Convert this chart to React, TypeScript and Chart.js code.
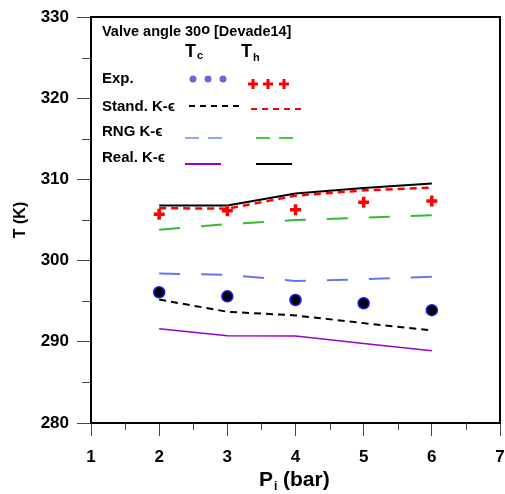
import React, { useEffect, useRef } from "react";
import { Chart, registerables } from "chart.js";

Chart.register(...registerables);

const pressures = [2, 3, 4, 5, 6];
const expTc = [296.1, 295.6, 295.15, 294.75, 293.9];
const expTh = [305.7, 306.15, 306.25, 307.2, 307.35];
const standTc = [295.2, 293.7, 293.25, 292.3, 291.4];
const standTh = [306.45, 306.4, 308.0, 308.65, 309.0];
const rngTc = [298.4, 298.25, 297.5, 297.7, 298.0];
const rngTh = [303.8, 304.5, 305.0, 305.3, 305.6];
const realTc = [291.6, 290.75, 290.7, 289.8, 288.9];
const realTh = [306.8, 306.8, 308.25, 308.95, 309.5];

const yMinorTicks = [285, 295, 305, 315, 325];
const xMinorTicks = [1.5, 2.5, 3.5, 4.5, 5.5, 6.5];

const FONT = "'Liberation Sans', Arial, sans-serif";
const AREA = { left: 91, right: 500, top: 17, bottom: 423 };

const pts = (ys: number[]) => pressures.map((x, i) => ({ x, y: ys[i] }));

const areaPlugin = {
  id: "area",
  afterLayout(chart: any) {
    const ca = chart.chartArea;
    const xs = chart.scales.x;
    const ys = chart.scales.y;
    xs.right = AREA.right;
    xs.width = xs.right - xs.left;
    ys.top = AREA.top;
    ys.height = ys.bottom - ys.top;
    xs.configure();
    ys.configure();
    ca.right = AREA.right;
    ca.top = AREA.top;
    ca.width = ca.right - ca.left;
    ca.height = ca.bottom - ca.top;
  },
};

const decorPlugin = {
  id: "decor",
  afterDraw(chart: any) {
    const { ctx, chartArea: a, scales } = chart;
    const xs = scales.x;
    const ys = scales.y;
    ctx.save();
    // box
    ctx.strokeStyle = "#000";
    ctx.lineWidth = 2;
    ctx.strokeRect(a.left, a.top, a.right - a.left, a.bottom - a.top);
    // minor ticks
    ctx.strokeStyle = "#444";
    ctx.lineWidth = 1;
    ctx.beginPath();
    yMinorTicks.forEach((v) => {
      const y = Math.round(ys.getPixelForValue(v)) + 0.5;
      ctx.moveTo(a.left - 9, y);
      ctx.lineTo(a.left, y);
    });
    xMinorTicks.forEach((v) => {
      const x = Math.round(xs.getPixelForValue(v)) + 0.5;
      ctx.moveTo(x, a.bottom);
      ctx.lineTo(x, a.bottom + 7);
    });
    ctx.stroke();

    // x title with subscript
    ctx.fillStyle = "#000";
    ctx.textBaseline = "alphabetic";
    ctx.textAlign = "left";
    ctx.font = `bold 21px ${FONT}`;
    ctx.fillText("P", 259, 486);
    ctx.font = `bold 12px ${FONT}`;
    ctx.fillText("i", 274, 490);
    ctx.font = `bold 21px ${FONT}`;
    ctx.fillText("(bar)", 283, 486);

    // legend
    ctx.font = `bold 14.5px ${FONT}`;
    const t1 = "Valve angle 30";
    ctx.fillText(t1, 102, 36);
    let w = ctx.measureText(t1).width;
    ctx.fillText("o", 102 + w, 34);
    w += ctx.measureText("o").width;
    ctx.fillText(" [Devade14]", 102 + w, 36);

    ctx.font = `bold 18px ${FONT}`;
    ctx.fillText("T", 185, 57);
    ctx.fillText("T", 241, 57);
    ctx.font = `bold 11px ${FONT}`;
    ctx.fillText("c", 197, 59);
    ctx.fillText("h", 253, 61);

    ctx.font = `bold 15px ${FONT}`;
    ctx.fillText("Exp.", 102, 83);
    ctx.fillText("Stand. K-\u03f5", 102, 111);
    ctx.fillText("RNG K-\u03f5", 102, 136);
    ctx.fillText("Real. K-\u03f5", 102, 162);

    // exp markers
    ctx.fillStyle = "#6a6ad2";
    [193, 208, 223].forEach((x) => {
      ctx.beginPath();
      ctx.arc(x, 79, 3.5, 0, Math.PI * 2);
      ctx.fill();
    });
    ctx.strokeStyle = "#ff0000";
    ctx.lineWidth = 3;
    ctx.beginPath();
    [253, 268, 284].forEach((x) => {
      ctx.moveTo(x - 5, 84);
      ctx.lineTo(x + 5, 84);
      ctx.moveTo(x, 79);
      ctx.lineTo(x, 89);
    });
    ctx.stroke();

    const seg = (x1: number, x2: number, y: number, color: string, dash: number[], lw: number) => {
      ctx.strokeStyle = color;
      ctx.lineWidth = lw;
      ctx.setLineDash(dash);
      ctx.beginPath();
      ctx.moveTo(x1, y);
      ctx.lineTo(x2, y);
      ctx.stroke();
      ctx.setLineDash([]);
    };
    seg(189, 240, 106, "#000", [6, 5], 2);
    seg(251, 301, 109, "#ff0000", [6, 5], 2);
    seg(185, 227, 138, "#88aaf5", [14, 9], 2);
    seg(256, 298, 138, "#44cc44", [14, 9], 2);
    seg(185, 221, 164, "#9900cc", [], 2);
    seg(256, 292, 164, "#000", [], 2);
    ctx.restore();
  },
};

export default function App() {
  const ref = useRef<HTMLCanvasElement | null>(null);
  useEffect(() => {
    if (!ref.current) return;
    const chart = new Chart(ref.current, {
      type: "line",
      data: {
        datasets: [
          {
            label: "Exp. Tc",
            data: pts(expTc),
            showLine: false,
            pointRadius: 5.5,
            pointBackgroundColor: "#000",
            pointBorderColor: "#1a1aff",
            pointBorderWidth: 1.5,
          },
          {
            label: "Exp. Th",
            data: pts(expTh),
            showLine: false,
            pointStyle: "cross",
            pointRadius: 5.5,
            pointBorderColor: "#ff0000",
            pointBorderWidth: 3.5,
          },
          {
            label: "Stand. Tc",
            data: pts(standTc),
            borderColor: "#000",
            borderWidth: 2,
            borderDash: [7, 5],
            pointRadius: 0,
          },
          {
            label: "Stand. Th",
            data: pts(standTh),
            borderColor: "#ff0000",
            borderWidth: 2.5,
            borderDash: [7, 5],
            pointRadius: 0,
          },
          {
            label: "RNG Tc",
            data: pts(rngTc),
            borderColor: "#6677ee",
            borderWidth: 2,
            borderDash: [21, 21],
            pointRadius: 0,
          },
          {
            label: "RNG Th",
            data: pts(rngTh),
            borderColor: "#33bb33",
            borderWidth: 2,
            borderDash: [21, 21],
            pointRadius: 0,
          },
          {
            label: "Real Tc",
            data: pts(realTc),
            borderColor: "#9900cc",
            borderWidth: 1.5,
            pointRadius: 0,
          },
          {
            label: "Real Th",
            data: pts(realTh),
            borderColor: "#000",
            borderWidth: 2,
            pointRadius: 0,
          },
        ],
      },
      options: {
        animation: false,
        responsive: false,
        layout: { padding: { left: 0, right: 5, top: 17, bottom: 0 } },
        plugins: { legend: { display: false }, tooltip: { enabled: false } },
        scales: {
          x: {
            type: "linear",
            min: 1,
            max: 7,
            ticks: {
              stepSize: 1,
              color: "#000",
              padding: 11,
              font: { family: FONT, size: 17, weight: "bold" },
            },
            grid: {
              drawOnChartArea: false,
              tickLength: 13,
              tickColor: "#444",
              tickWidth: 1,
            },
            border: { display: true, color: "#000", width: 2 },
            afterFit: (s: any) => {
              s.height = 71;
            },
          },
          y: {
            type: "linear",
            min: 280,
            max: 330,
            ticks: {
              stepSize: 10,
              color: "#000",
              padding: 8,
              font: { family: FONT, size: 17, weight: "bold" },
            },
            grid: {
              drawOnChartArea: false,
              tickLength: 14,
              tickColor: "#444",
              tickWidth: 1,
            },
            border: { display: true, color: "#000", width: 2 },
            title: {
              display: true,
              text: "T (K)",
              color: "#000",
              padding: { top: 11, bottom: 0 },
              font: { family: FONT, size: 16, weight: "bold" },
            },
            afterFit: (s: any) => {
              s.width = 91;
            },
          },
        },
      },
      plugins: [areaPlugin, decorPlugin],
    } as any);
    return () => chart.destroy();
  }, []);
  return (
    <div style={{ position: "absolute", left: 0, top: 0, width: 505, height: 494, background: "#fff" }}>
      <canvas ref={ref} width={505} height={494} />
    </div>
  );
}
